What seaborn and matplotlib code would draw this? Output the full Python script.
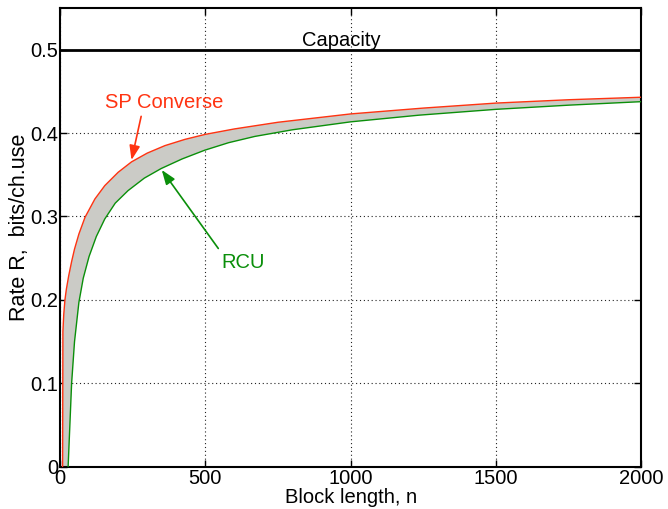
import numpy as np
import pandas as pd
import matplotlib
matplotlib.use("Agg")
import matplotlib.pyplot as plt
import seaborn as sns

# ---- data ----
sp_n = [9, 10, 13, 17, 22, 26, 30, 40, 50, 65, 86, 120, 154, 200, 246, 300, 361,
        430, 500, 600, 750, 1000, 1250, 1500, 1750, 2000]
sp_rate = [0.0, 0.162, 0.183, 0.200, 0.213, 0.221, 0.229, 0.246, 0.261, 0.279, 0.299,
           0.321, 0.337, 0.353, 0.3655, 0.376, 0.385, 0.3925, 0.3985, 0.405, 0.413,
           0.423, 0.430, 0.436, 0.440, 0.443]

rcu_n = [28, 40, 50, 65, 80, 100, 125, 154, 190, 234, 290, 348, 420, 498, 580, 670,
         800, 1000, 1235, 1500, 1750, 2000]
rcu_rate = [0.0, 0.100, 0.150, 0.197, 0.226, 0.252, 0.276, 0.297, 0.316, 0.331, 0.346,
            0.3575, 0.369, 0.3795, 0.3885, 0.396, 0.404, 0.4135, 0.4215, 0.4285,
            0.4335, 0.4377]

capacity_n = [0, 2000]
capacity_rate = [0.5, 0.5]

x_ticks = [0, 500, 1000, 1500, 2000]
y_ticks = [0, 0.1, 0.2, 0.3, 0.4, 0.5]
y_tick_labels = ["0", "0.1", "0.2", "0.3", "0.4", "0.5"]

RED = "#ff3311"
GREEN = "#0a8f0a"
FILL = "#cbcbc6"

sns.set_theme(style="white")
plt.rcParams["font.family"] = ["Liberation Sans", "DejaVu Sans"]
plt.rcParams["text.color"] = "black"
plt.rcParams["axes.labelcolor"] = "black"
plt.rcParams["xtick.color"] = "black"
plt.rcParams["ytick.color"] = "black"
FS = 14.5

fig = plt.figure(figsize=(6.68, 5.09), dpi=100)
ax = fig.add_axes([0.0898, 0.0831, 0.9603 - 0.0898, 0.9843 - 0.0831])

sp = pd.DataFrame({"n": sp_n, "rate": sp_rate})
rcu = pd.DataFrame({"n": rcu_n, "rate": rcu_rate})
cap = pd.DataFrame({"n": capacity_n, "rate": capacity_rate})

# gray band between curves (polygon from the two read series)
poly_x = list(sp_n) + list(rcu_n[::-1])
poly_y = list(sp_rate) + list(rcu_rate[::-1])
ax.fill(poly_x, poly_y, color=FILL, lw=0, zorder=2)

sns.lineplot(data=sp, x="n", y="rate", color=RED, lw=1.0, sort=False, ax=ax, zorder=3)
sns.lineplot(data=rcu, x="n", y="rate", color=GREEN, lw=1.0, sort=False, ax=ax, zorder=3)
sns.lineplot(data=cap, x="n", y="rate", color="black", lw=2.0, ax=ax, zorder=3)

ax.set_xlim(0, 2000)
ax.set_ylim(0, 0.55)
ax.set_xticks(x_ticks)
ax.set_xticklabels([str(v) for v in x_ticks], fontsize=FS, color="black")
ax.set_yticks(y_ticks)
ax.set_yticklabels(y_tick_labels, fontsize=FS, color="black")
ax.tick_params(direction="in", length=5, width=1, top=True, right=True,
               bottom=True, left=True, colors="black")
ax.tick_params(axis="y", pad=1)
ax.tick_params(axis="x", pad=2)
ax.grid(True, linestyle=(0, (1, 2.5)), color="#222222", linewidth=0.8)
ax.set_axisbelow(True)
for s in ax.spines.values():
    s.set_linewidth(1.5)
    s.set_color("black")

ax.set_xlabel("Block length, n", fontsize=FS, labelpad=0, color="black")
ax.set_ylabel("Rate R,  bits/ch.use", fontsize=15.5, color="black")
ax.yaxis.set_label_coords(-0.052, 0.522)

ax.text(968, 0.5045, "Capacity", fontsize=FS, ha="center", va="baseline", color="black")

ax.annotate("SP Converse", xy=(246, 0.3677), xytext=(358, 0.437), fontsize=FS,
            color=RED, ha="center", va="center",
            arrowprops=dict(arrowstyle="-|>,head_length=0.6,head_width=0.22",
                            color=RED, lw=1.2, shrinkA=1, shrinkB=0,
                            relpos=(0.315, 0.0)))
ax.annotate("RCU", xy=(350, 0.3558), xytext=(630, 0.245), fontsize=FS,
            color=GREEN, ha="center", va="center",
            arrowprops=dict(arrowstyle="-|>,head_length=0.6,head_width=0.22",
                            color=GREEN, lw=1.2, shrinkA=1, shrinkB=0,
                            relpos=(0.0, 1.0)))

fig.savefig("out.png", dpi=100)
